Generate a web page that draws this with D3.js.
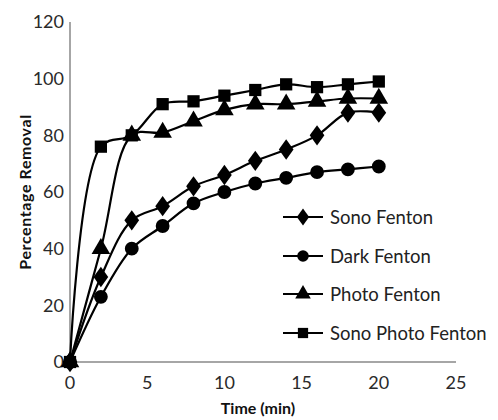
<!DOCTYPE html>
<html>
<head>
<meta charset="utf-8">
<title>Percentage Removal</title>
<style>
  body { margin: 0; background: #fff; }
  text { font-family: Lato, "Open Sans", sans-serif; }
</style>
</head>
<body>
<script src="https://d3js.org/d3.v7.min.js"></script>
<script>
// datos
var time = [0, 2, 4, 6, 8, 10, 12, 14, 16, 18, 20];
var sonoFenton = [0, 30, 50, 55, 62, 66, 71, 75, 80, 88, 88];
var darkFenton = [0, 23, 40, 48, 56, 60, 63, 65, 67, 68, 69];
var photoFenton = [0, 40, 80, 81, 85, 89, 91, 91, 92, 93, 93];
var sonoPhotoFenton = [0, 76, 80, 91, 92, 94, 96, 98, 97, 98, 99];
var seriesNames = ["Sono Fenton", "Dark Fenton", "Photo Fenton", "Sono Photo  Fenton"];
var xTicks = [0, 5, 10, 15, 20, 25];
var yTicks = [0, 20, 40, 60, 80, 100, 120];

var width = 498, height = 420;
var svg = d3.select("body").append("svg")
  .attr("width", width)
  .attr("height", height);

var x = d3.scaleLinear().domain([0, 25]).range([70, 456]);
var y = d3.scaleLinear().domain([0, 120]).range([362, 22]);

// ejes
svg.append("line").attr("x1", 70).attr("x2", 70).attr("y1", y(120)).attr("y2", y(0))
  .attr("stroke", "#888").attr("stroke-width", 1.5);
svg.append("line").attr("x1", 70).attr("x2", x(25)).attr("y1", y(0)).attr("y2", y(0))
  .attr("stroke", "#888").attr("stroke-width", 1.5);

svg.selectAll(".ytick").data(yTicks).enter().append("text")
  .attr("x", 64).attr("y", d => y(d)).attr("dy", "0.36em")
  .attr("text-anchor", "end").attr("font-size", "18px").attr("fill", "#2a2a2a")
  .text(d => d);
svg.selectAll(".xtick").data(xTicks).enter().append("text")
  .attr("x", d => x(d)).attr("y", 389)
  .attr("text-anchor", "middle").attr("font-size", "18px").attr("fill", "#2a2a2a")
  .text(d => d);

svg.append("text").attr("x", 258).attr("y", 414).attr("text-anchor", "middle")
  .attr("font-size", "16px").attr("font-weight", "bold").attr("fill", "#111")
  .text("Time (min)");
svg.append("text").attr("transform", "translate(31,192) rotate(-90)")
  .attr("text-anchor", "middle").attr("font-size", "16px").attr("font-weight", "bold")
  .attr("letter-spacing", "0.6px").attr("fill", "#111")
  .text("Percentage Removal");

var allSeries = [sonoFenton, darkFenton, photoFenton, sonoPhotoFenton];
var shapes = [d3.symbolDiamond, d3.symbolCircle, d3.symbolTriangle, d3.symbolSquare];
var sizes = [120, 150, 150, 150];

var line = d3.line()
  .x((d, i) => x(time[i]))
  .y(d => y(d))
  .curve(d3.curveCatmullRom.alpha(0.5));

allSeries.forEach(function(s, k) {
  svg.append("path").datum(s).attr("d", line)
    .attr("fill", "none").attr("stroke", "#000").attr("stroke-width", 2.2);
  svg.selectAll(".m" + k).data(s).enter().append("path")
    .attr("transform", (d, i) => "translate(" + x(time[i]) + "," + y(d) + ")" + (k === 0 ? " scale(1.25,1)" : ""))
    .attr("d", d3.symbol().type(shapes[k]).size(sizes[k]))
    .attr("fill", "#000");
});

// leyenda
var legY = [217, 256, 294, 333];
seriesNames.forEach(function(n, k) {
  svg.append("line").attr("x1", 283).attr("x2", 323).attr("y1", legY[k]).attr("y2", legY[k])
    .attr("stroke", "#000").attr("stroke-width", 2);
  svg.append("path").attr("transform", "translate(303," + legY[k] + ")" + (k === 0 ? " scale(1.25,1)" : ""))
    .attr("d", d3.symbol().type(shapes[k]).size(sizes[k] * 0.7)).attr("fill", "#000");
  svg.append("text").attr("x", 330).attr("y", legY[k]).attr("dy", "0.36em")
    .attr("font-size", "18.5px").attr("fill", "#222").text(n);
});
</script>
</body>
</html>
